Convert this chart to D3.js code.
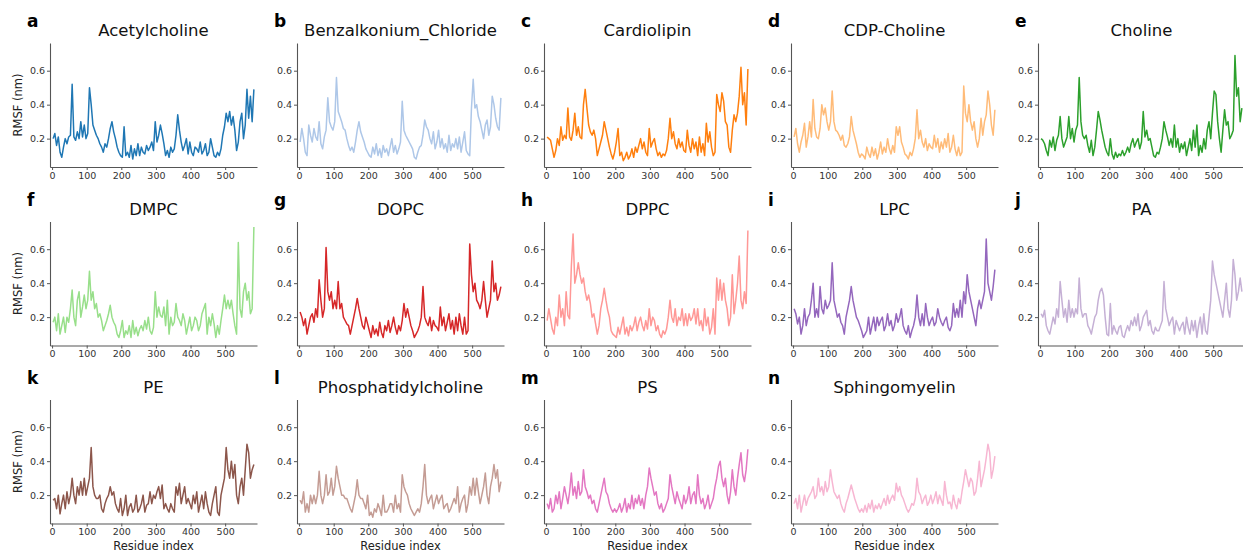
<!DOCTYPE html>
<html>
<head>
<meta charset="utf-8">
<script src="https://cdn.jsdelivr.net/npm/d3@7"></script>
<style>
body { margin: 0; background: #fff; }
text { font-family: "DejaVu Sans", sans-serif; }
</style>
</head>
<body>
<svg id="chart" width="1243" height="553"></svg>
<script>
// residue positions the RMSF values were read at
const residues = d3.range(3, 584, 5);

const acetylcholine = [.20,.23,.16,.21,.12,.09,.15,.20,.17,.21, .22,.52,.21,.19,.24,.20,.30,.21,.28,.20,
  .23,.50,.40,.28,.25,.22,.20,.17,.15,.12, .17,.15,.20,.26,.30,.24,.20,.15,.12,.10,
  .09,.27,.10,.12,.09,.16,.08,.14,.10,.17, .10,.15,.12,.11,.16,.13,.15,.18,.13,.30,
  .18,.22,.28,.23,.17,.10,.13,.09,.15,.12, .14,.22,.34,.25,.18,.13,.16,.20,.11,.18,
  .12,.10,.15,.14,.12,.18,.11,.13,.17,.10, .12,.20,.15,.10,.09,.12,.10,.14,.22,.27,
  .35,.30,.36,.28,.33,.25,.13,.18,.30,.35, .20,.28,.49,.32,.45,.30,.49];
const benzalkonium = [.18,.26,.20,.12,.10,.28,.22,.18,.26,.21, .19,.30,.17,.14,.21,.25,.44,.30,.27,.25,
  .30,.56,.36,.33,.30,.26,.25,.20,.16,.13, .15,.12,.18,.25,.30,.24,.21,.18,.14,.12,
  .10,.09,.15,.11,.17,.10,.14,.09,.16,.12, .14,.10,.15,.20,.12,.16,.11,.14,.18,.42,
  .25,.22,.20,.18,.16,.14,.09,.08,.12,.15, .16,.22,.31,.27,.25,.20,.17,.24,.14,.18,
  .25,.15,.20,.14,.17,.12,.22,.13,.17,.15, .20,.14,.21,.12,.18,.24,.13,.11,.10,.38,
  .55,.38,.40,.33,.30,.25,.20,.28,.31,.22, .27,.45,.40,.32,.27,.25,.44];
const cardiolipin = [.21,.20,.19,.14,.09,.13,.20,.16,.27,.19, .22,.20,.38,.21,.19,.25,.35,.22,.27,.21,
  .20,.40,.49,.38,.28,.24,.22,.25,.20,.10, .14,.18,.22,.30,.25,.20,.15,.11,.08,.12,
  .18,.26,.10,.12,.07,.09,.12,.08,.10,.14, .09,.15,.12,.16,.20,.14,.18,.12,.10,.26,
  .15,.18,.20,.14,.10,.12,.09,.11,.10,.13, .20,.32,.20,.24,.17,.14,.20,.15,.18,.13,
  .12,.25,.16,.12,.20,.14,.18,.10,.21,.12, .17,.10,.29,.18,.24,.15,.10,.12,.46,.40,
  .36,.47,.42,.30,.28,.15,.12,.25,.34,.30, .35,.45,.62,.40,.47,.28,.61];
const cdpCholine = [.21,.26,.17,.12,.18,.22,.29,.15,.21,.30, .21,.43,.26,.21,.20,.26,.40,.34,.38,.30,
  .25,.30,.48,.30,.25,.24,.22,.19,.22,.16, .15,.17,.21,.33,.25,.21,.17,.12,.09,.11,
  .10,.08,.15,.11,.09,.15,.10,.14,.08,.12, .18,.11,.15,.12,.20,.14,.11,.16,.12,.27,
  .22,.27,.18,.15,.11,.10,.08,.12,.10,.14, .20,.37,.20,.25,.18,.15,.20,.13,.17,.15,
  .14,.22,.15,.20,.12,.18,.14,.20,.15,.23, .12,.15,.22,.14,.10,.15,.10,.12,.51,.35,
  .30,.40,.30,.25,.30,.20,.15,.20,.32,.22, .30,.34,.48,.40,.28,.22,.37];
const choline = [.20,.19,.17,.13,.10,.19,.15,.21,.13,.19, .22,.33,.20,.15,.18,.21,.33,.20,.26,.18,
  .25,.28,.56,.30,.22,.20,.22,.16,.12,.19, .10,.15,.25,.36,.31,.25,.20,.15,.12,.10,
  .20,.11,.08,.12,.09,.11,.10,.13,.10,.12, .15,.12,.17,.20,.15,.18,.20,.14,.18,.36,
  .21,.25,.19,.20,.15,.10,.09,.12,.11,.15, .20,.30,.25,.21,.16,.20,.15,.28,.15,.20,
  .12,.17,.14,.18,.10,.15,.20,.13,.25,.15, .28,.10,.16,.12,.20,.14,.25,.30,.20,.35,
  .48,.46,.30,.20,.12,.25,.37,.28,.30,.20, .22,.25,.69,.45,.50,.30,.38];
const dmpc = [.17,.20,.12,.22,.10,.15,.20,.11,.20,.17, .25,.36,.20,.15,.30,.35,.20,.26,.33,.25,
  .30,.47,.30,.35,.25,.28,.20,.22,.18,.12, .15,.18,.22,.27,.20,.17,.15,.10,.08,.12,
  .18,.08,.12,.10,.15,.08,.18,.10,.14,.09, .13,.15,.12,.18,.13,.20,.12,.10,.14,.35,
  .20,.26,.21,.20,.26,.15,.30,.10,.20,.15, .17,.28,.20,.18,.15,.22,.18,.10,.15,.20,
  .12,.15,.20,.18,.12,.15,.22,.25,.28,.10, .20,.15,.22,.16,.08,.15,.10,.18,.25,.33,
  .25,.30,.25,.30,.22,.15,.10,.64,.25,.20, .35,.40,.30,.35,.22,.25,.73];
const dopc = [.23,.20,.15,.19,.10,.15,.20,.22,.17,.25, .20,.42,.30,.20,.25,.61,.35,.30,.35,.25,
  .30,.25,.41,.25,.28,.20,.18,.16,.15,.10, .15,.20,.25,.31,.25,.20,.15,.13,.20,.16,
  .12,.08,.15,.10,.13,.09,.17,.11,.08,.15, .12,.18,.11,.15,.20,.14,.10,.15,.12,.18,
  .28,.20,.25,.20,.15,.12,.08,.10,.12,.15, .20,.38,.20,.17,.15,.20,.12,.18,.15,.14,
  .12,.26,.15,.20,.12,.17,.22,.13,.18,.10, .20,.12,.22,.15,.10,.20,.10,.12,.63,.45,
  .35,.40,.30,.28,.25,.30,.41,.30,.20,.25, .30,.53,.35,.40,.30,.33,.38];
const dppc = [.18,.25,.19,.13,.10,.20,.15,.33,.20,.25, .15,.35,.21,.19,.50,.69,.40,.45,.52,.45,
  .40,.43,.35,.30,.33,.28,.20,.22,.16,.10, .15,.25,.30,.37,.30,.24,.20,.12,.10,.09,
  .08,.14,.10,.15,.20,.10,.14,.09,.15,.12, .15,.20,.12,.17,.20,.15,.12,.18,.13,.25,
  .15,.20,.18,.12,.15,.10,.08,.12,.10,.13, .20,.30,.20,.17,.25,.15,.20,.18,.25,.15,
  .22,.15,.22,.18,.20,.25,.16,.25,.15,.18, .12,.25,.15,.20,.10,.14,.25,.10,.43,.30,
  .42,.30,.40,.30,.25,.15,.20,.45,.22,.30, .40,.56,.30,.25,.35,.28,.71];
const lpc = [.25,.22,.16,.20,.10,.15,.25,.15,.20,.22, .30,.40,.20,.25,.20,.38,.25,.22,.30,.25,
  .27,.30,.52,.30,.25,.20,.22,.17,.15,.10, .20,.25,.30,.38,.30,.25,.20,.18,.15,.12,
  .08,.10,.12,.20,.10,.15,.20,.12,.20,.15, .18,.20,.12,.15,.22,.15,.18,.12,.15,.22,
  .17,.20,.25,.15,.12,.10,.15,.08,.12,.15, .20,.33,.20,.15,.22,.15,.28,.20,.15,.18,
  .20,.15,.17,.25,.20,.17,.15,.18,.20,.14, .12,.15,.28,.20,.25,.20,.30,.20,.35,.28,
  .45,.35,.30,.25,.20,.15,.25,.30,.25,.30, .35,.66,.40,.35,.30,.38,.48];
const pa = [.22,.20,.24,.15,.12,.10,.15,.20,.16,.25, .20,.41,.30,.20,.25,.17,.30,.20,.25,.20,
  .25,.22,.43,.25,.20,.22,.22,.15,.13,.10, .15,.20,.22,.30,.35,.37,.33,.20,.10,.09,
  .28,.10,.15,.12,.10,.14,.15,.09,.08,.12, .15,.12,.18,.15,.20,.15,.22,.12,.15,.20,
  .22,.24,.15,.18,.12,.10,.14,.12,.12,.15, .18,.41,.25,.20,.15,.18,.20,.10,.18,.15,
  .12,.15,.17,.10,.20,.14,.10,.18,.12,.18, .08,.15,.20,.10,.22,.12,.10,.20,.30,.53,
  .45,.40,.35,.30,.25,.20,.30,.40,.25,.20, .30,.54,.45,.30,.35,.43,.35];
const pe = [.17,.18,.12,.20,.09,.15,.20,.12,.22,.15, .20,.30,.20,.15,.25,.20,.28,.20,.30,.20,
  .25,.30,.48,.25,.20,.18,.18,.20,.12,.10, .15,.18,.20,.25,.20,.22,.15,.12,.10,.18,
  .08,.12,.20,.08,.13,.15,.10,.12,.20,.10, .12,.15,.20,.10,.14,.15,.22,.15,.20,.18,
  .22,.25,.18,.26,.12,.15,.12,.10,.15,.12, .10,.25,.20,.27,.15,.20,.25,.15,.18,.15,
  .12,.20,.15,.22,.10,.15,.20,.12,.22,.15, .10,.08,.15,.20,.25,.10,.08,.20,.25,.30,
  .48,.35,.30,.40,.30,.38,.20,.15,.25,.30, .20,.35,.50,.45,.30,.35,.38];
const phosphatidylcholine = [.17,.15,.22,.10,.15,.10,.20,.15,.20,.15, .20,.34,.20,.15,.20,.32,.20,.22,.30,.20,
  .25,.37,.30,.25,.20,.20,.18,.18,.15,.12, .10,.15,.20,.29,.20,.18,.18,.15,.12,.20,
  .08,.10,.07,.12,.10,.15,.12,.08,.20,.10, .10,.12,.15,.15,.10,.20,.12,.15,.10,.32,
  .25,.22,.20,.15,.12,.10,.08,.10,.12,.10, .15,.25,.38,.20,.15,.18,.20,.12,.16,.20,
  .15,.18,.20,.12,.14,.15,.10,.12,.15,.18, .15,.25,.10,.15,.18,.20,.10,.15,.25,.20,
  .30,.20,.30,.22,.15,.20,.25,.33,.20,.15, .25,.30,.38,.30,.35,.22,.28];
const ps = [.15,.12,.18,.10,.12,.20,.15,.22,.12,.18, .25,.20,.15,.22,.33,.20,.25,.18,.28,.20,
  .22,.35,.25,.22,.18,.20,.15,.17,.12,.10, .15,.20,.25,.30,.22,.20,.15,.12,.10,.12,
  .10,.12,.15,.10,.13,.18,.10,.15,.12,.20, .12,.18,.15,.20,.14,.18,.12,.20,.25,.36,
  .30,.25,.20,.22,.15,.12,.15,.10,.12,.15, .18,.32,.25,.20,.15,.22,.18,.15,.12,.20,
  .15,.18,.25,.15,.20,.22,.15,.32,.20,.15, .18,.12,.15,.20,.12,.15,.18,.25,.30,.37,
  .40,.30,.25,.30,.20,.15,.22,.35,.25,.20, .30,.38,.45,.32,.28,.35,.47];
const sphingomyelin = [.15,.18,.12,.20,.10,.15,.20,.14,.18,.20, .22,.25,.18,.20,.30,.22,.25,.20,.28,.22,
  .25,.35,.28,.22,.20,.18,.20,.15,.12,.10, .15,.18,.22,.26,.22,.18,.15,.12,.10,.12,
  .10,.14,.10,.15,.12,.17,.10,.14,.12,.15, .12,.15,.18,.14,.20,.15,.18,.20,.17,.27,
  .22,.25,.20,.18,.15,.12,.10,.12,.15,.14, .18,.30,.22,.20,.15,.18,.20,.14,.16,.20,
  .15,.18,.22,.15,.20,.17,.14,.28,.20,.15, .16,.12,.20,.15,.12,.18,.15,.22,.28,.35,
  .30,.25,.30,.28,.20,.22,.30,.40,.25,.30, .35,.42,.50,.45,.30,.35,.43];

const seriesNames = ['Acetylcholine', 'Benzalkonium_Chloride', 'Cardiolipin', 'CDP-Choline', 'Choline',
  'DMPC', 'DOPC', 'DPPC', 'LPC', 'PA', 'PE', 'Phosphatidylcholine', 'PS', 'Sphingomyelin'];
const seriesValues = [acetylcholine, benzalkonium, cardiolipin, cdpCholine, choline,
  dmpc, dopc, dppc, lpc, pa, pe, phosphatidylcholine, ps, sphingomyelin];
const panelLetters = ['a', 'b', 'c', 'd', 'e', 'f', 'g', 'h', 'i', 'j', 'k', 'l', 'm', 'n'];
// tab20
const colours = ['#1f77b4', '#aec7e8', '#ff7f0e', '#ffbb78', '#2ca02c', '#98df8a', '#d62728',
  '#ff9896', '#9467bd', '#c5b0d5', '#8c564b', '#c49c94', '#e377c2', '#f7b6d2'];
const xTicks = [0, 100, 200, 300, 400, 500];
const yTicks = [0.2, 0.4, 0.6];

const svg = d3.select('#chart');
svg.append('rect').attr('width', 1243).attr('height', 553).attr('fill', '#fff');

const colLeft = [50, 297, 544, 791, 1038];
const rowTop = [43, 221.5, 399.5];
const width = 207, height = 124;

const x = d3.scaleLinear().domain([-6, 592]).range([0, width]);
const y = d3.scaleLinear().domain([0.033, 0.763]).range([height, 0]);

const line = d3.line()
  .x((d, i) => x(residues[i]))
  .y((d) => y(d));

seriesNames.forEach((name, i) => {
  const col = i % 5, row = Math.floor(i / 5);
  const g = svg.append('g')
    .attr('transform', `translate(${colLeft[col]},${rowTop[row]})`);

  g.append('path')
    .datum(seriesValues[i])
    .attr('d', line)
    .attr('fill', 'none')
    .attr('stroke', colours[i])
    .attr('stroke-width', 1.5)
    .attr('stroke-linejoin', 'round');

  const xAxis = g.append('g')
    .attr('transform', `translate(0,${height})`)
    .call(d3.axisBottom(x).tickValues(xTicks).tickSize(3).tickSizeOuter(0).tickPadding(2));
  const yAxis = g.append('g')
    .call(d3.axisLeft(y).tickValues(yTicks).tickFormat(d3.format('.1f')).tickSize(3).tickSizeOuter(0).tickPadding(2));

  [xAxis, yAxis].forEach((a) => {
    a.select('.domain').attr('stroke', '#555').attr('stroke-width', 1.1);
    a.selectAll('line').attr('stroke', '#555');
    a.selectAll('text').attr('fill', '#333').style('font-size', '9.5px')
      .style('font-family', '"DejaVu Sans", sans-serif');
  });

  // panel title and letter
  g.append('text')
    .attr('x', width / 2)
    .attr('y', -7)
    .attr('text-anchor', 'middle')
    .style('font-size', '16.5px')
    .attr('fill', '#111')
    .text(name);

  g.append('text')
    .attr('x', -23)
    .attr('y', -16)
    .style('font-size', '17px')
    .style('font-weight', 'bold')
    .attr('fill', '#000')
    .text(panelLetters[i]);

  if (col === 0) {
    g.append('text')
      .attr('transform', `translate(-28,${height / 2}) rotate(-90)`)
      .attr('text-anchor', 'middle')
      .style('font-size', '11.5px')
      .attr('fill', '#222')
      .text('RMSF (nm)');
  }
  if (row === 2) {
    g.append('text')
      .attr('x', width / 2)
      .attr('y', height + 26)
      .attr('text-anchor', 'middle')
      .style('font-size', '11.5px')
      .attr('fill', '#222')
      .text('Residue index');
  }
});
</script>
</body>
</html>
